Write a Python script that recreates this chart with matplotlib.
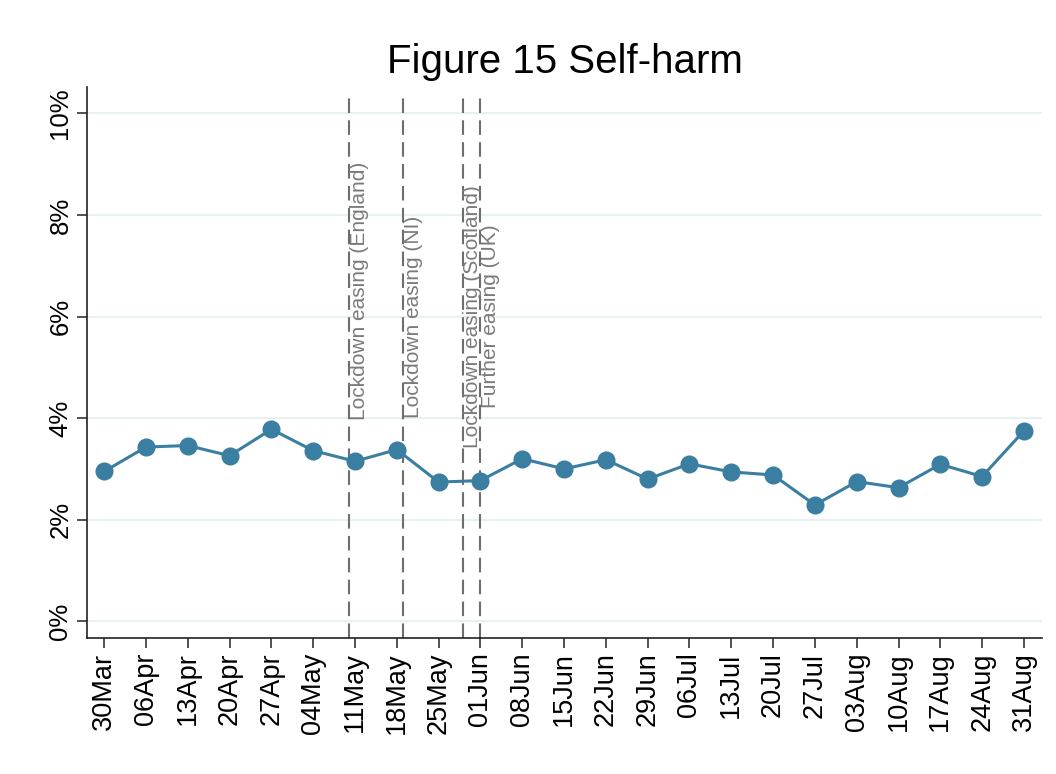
import numpy as np
import pandas as pd
import matplotlib
matplotlib.use("Agg")
import matplotlib.pyplot as plt

plt.rcParams['font.family'] = ['Liberation Sans', 'DejaVu Sans']

# weekly survey points (week starting)
weeks = ["30Mar", "06Apr", "13Apr", "20Apr", "27Apr", "04May", "11May", "18May",
         "25May", "01Jun", "08Jun", "15Jun", "22Jun", "29Jun", "06Jul", "13Jul",
         "20Jul", "27Jul", "03Aug", "10Aug", "17Aug", "24Aug", "31Aug"]
selfharm = [2.95, 3.43, 3.46, 3.26, 3.78, 3.36, 3.15, 3.38, 2.74, 2.77, 3.20, 3.00,
            3.18, 2.80, 3.10, 2.94, 2.88, 2.29, 2.75, 2.63, 3.09, 2.85, 3.75]

# policy events
event_dates = ["2020-05-10", "2020-05-19", "2020-05-29", "2020-06-01"]
event_labels = ["Lockdown easing (England)", "Lockdown easing (NI)",
                "Lockdown easing (Scotland)", "Further easing (UK)"]
event_label_y = [6.5, 6.0, 6.0, 6.0]

start = pd.Timestamp("2020-03-30")
event_x = [(pd.Timestamp(d) - start).days / 7 for d in event_dates]
x = np.arange(len(weeks))

fig = plt.figure(figsize=(10.56, 7.74), dpi=100)
ax = fig.add_axes([0.0824, 0.1757, 0.9043, 0.7119])

line_col = '#3a7ea2'
ax.plot(x, selfharm, color=line_col, lw=2.2, marker='o', ms=12, zorder=3)

for ex, lab, ly in zip(event_x, event_labels, event_label_y):
    ax.axvline(ex, ymax=0.99, color='#6e6e6e', lw=1.5, dashes=(7, 3.5), zorder=2)
    ax.text(ex + 0.02, ly, lab, rotation=90, ha='left', va='center',
            fontsize=15, color='#7a7a7a')

ax.set_xlim(-0.41, 22.43)
ax.set_ylim(-0.33, 10.52)
ax.set_yticks([0, 2, 4, 6, 8, 10])
ax.set_yticklabels([f"{v}%" for v in [0, 2, 4, 6, 8, 10]], rotation=90, va='center',
                   fontsize=18.5)
ax.set_xticks(x)
ax.set_xticklabels(weeks, rotation=90, fontsize=19.5)

ax.grid(axis='y', color='#e8f1f2', lw=1.5, zorder=0)
ax.set_axisbelow(True)
for s in ['top', 'right']:
    ax.spines[s].set_visible(False)
for s in ['left', 'bottom']:
    ax.spines[s].set_color('#222222')
    ax.spines[s].set_linewidth(1.2)
ax.tick_params(axis='both', length=7, width=1.1, color='#222222')

ax.set_title("Figure 15 Self-harm", fontsize=29, pad=10)

fig.savefig("out.png", dpi=100)
